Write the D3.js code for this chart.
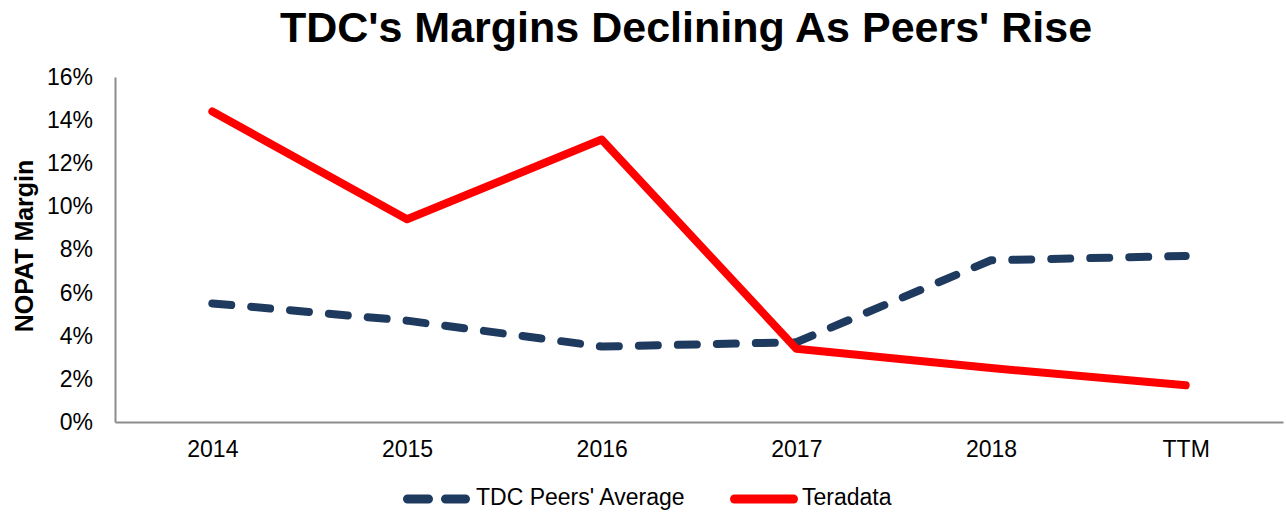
<!DOCTYPE html>
<html>
<head>
<meta charset="utf-8">
<script src="https://cdn.jsdelivr.net/npm/d3@7"></script>
<style>
  body { margin: 0; background: #fff; }
  text { font-family: "Liberation Sans", Arial, sans-serif; }
</style>
</head>
<body>
<svg></svg>
<script>
var screen = {width: 1286, height: 512};
var margins = {top: 77, right: 3, bottom: 90, left: 115};

var categories = ["2014", "2015", "2016", "2017", "2018", "TTM"];
var peersAverage = [5.5, 4.7, 3.5, 3.7, 7.5, 7.7];
var teradata = [14.4, 9.4, 13.1, 3.4, 2.5, 1.7];
var yTicks = [0, 2, 4, 6, 8, 10, 12, 14, 16];

var svg = d3.select("svg")
  .attr("width", screen.width)
  .attr("height", screen.height);

var width = screen.width - margins.left - margins.right;
var height = screen.height - margins.top - margins.bottom;

var xScale = d3.scalePoint().domain(categories).range([0, width]).padding(0.5);
var yScale = d3.scaleLinear().domain([0, 16]).range([height, 0]);

// title
svg.append("text")
  .attr("x", 686)
  .attr("y", 42)
  .attr("text-anchor", "middle")
  .style("font-size", "43px")
  .style("font-weight", "bold")
  .text("TDC's Margins Declining As Peers' Rise");

var graph = svg.append("g")
  .attr("id", "graph")
  .attr("transform", "translate(" + margins.left + "," + margins.top + ")");

var yAxis = d3.axisLeft(yScale).tickValues(yTicks).tickSize(0).tickPadding(22)
  .tickFormat(function(d){ return d + "%"; });
var xAxis = d3.axisBottom(xScale).tickSize(0).tickPadding(19);

graph.append("g").attr("class", "axis").call(yAxis);
graph.append("g").attr("class", "axis")
  .attr("transform", "translate(0," + height + ")")
  .call(xAxis);

graph.selectAll(".axis path").attr("stroke", "#8c8c8c").attr("stroke-width", 2);
graph.selectAll(".axis text")
  .style("font-size", "23px")
  .style("font-family", "'Liberation Sans', Arial, sans-serif")
  .attr("fill", "#000");

// y title
svg.append("text")
  .attr("transform", "translate(33," + 246 + ") rotate(-90)")
  .attr("text-anchor", "middle")
  .style("font-size", "25px")
  .style("font-weight", "bold")
  .text("NOPAT Margin");

var line = d3.line()
  .x(function(d, i){ return xScale(categories[i]); })
  .y(function(d){ return yScale(d); });

graph.append("path")
  .datum(peersAverage)
  .attr("fill", "none")
  .attr("stroke", "#1f3a5f")
  .attr("stroke-width", 8)
  .attr("stroke-linecap", "round")
  .attr("stroke-linejoin", "round")
  .attr("stroke-dasharray", "19,20")
  .attr("d", line);

graph.append("path")
  .datum(teradata)
  .attr("fill", "none")
  .attr("stroke", "#ff0000")
  .attr("stroke-width", 8)
  .attr("stroke-linecap", "round")
  .attr("stroke-linejoin", "round")
  .attr("d", line);

// legend
var legend = svg.append("g").attr("transform", "translate(0,499)");
legend.append("line")
  .attr("x1", 407.5).attr("x2", 465.5).attr("y1", 0).attr("y2", 0)
  .attr("stroke", "#1f3a5f").attr("stroke-width", 9)
  .attr("stroke-linecap", "round").attr("stroke-dasharray", "21,17");
legend.append("text").attr("x", 476).attr("y", 6)
  .style("font-size", "23px").text("TDC Peers' Average");
legend.append("line")
  .attr("x1", 734.5).attr("x2", 793.5).attr("y1", 0).attr("y2", 0)
  .attr("stroke", "#ff0000").attr("stroke-width", 9)
  .attr("stroke-linecap", "round");
legend.append("text").attr("x", 802).attr("y", 6)
  .style("font-size", "23px").text("Teradata");
</script>
</body>
</html>
